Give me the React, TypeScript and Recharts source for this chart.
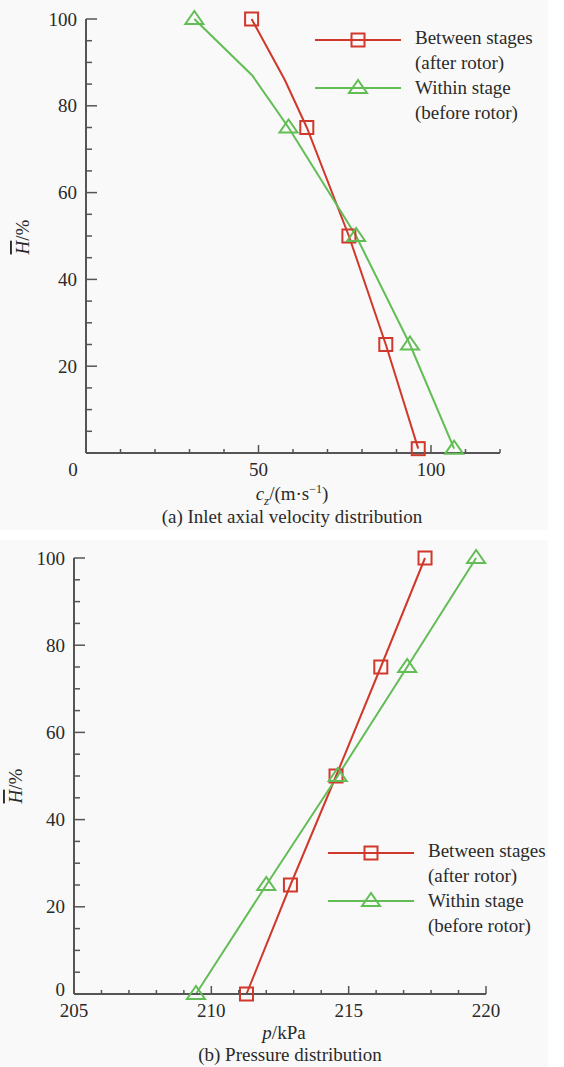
import React from "react";
import { LineChart, Line, XAxis, YAxis } from "recharts";

// (a) inlet axial velocity, c_z in m/s vs relative height in %
const A_RED_H = [100, 86, 75, 50, 25, 1];
const A_RED_C = [48, 57.6, 64, 76.2, 86.9, 96.3];
const A_RED_MARK = [true, false, true, true, true, true];
const A_GREEN_H = [100, 87, 75, 50, 25, 1];
const A_GREEN_C = [31.4, 48.2, 58.7, 78.3, 93.9, 106.7];
const A_GREEN_MARK = [true, false, true, true, true, true];
const A_X_TICKS = [0, 10, 20, 30, 40, 50, 60, 70, 80, 90, 100, 110, 120];
const A_X_LABELS = [0, 50, 100];
const A_Y_TICKS = [0, 5, 10, 15, 20, 25, 30, 35, 40, 45, 50, 55, 60, 65, 70, 75, 80, 85, 90, 95, 100];
const A_Y_LABELS = [20, 40, 60, 80, 100];

// (b) pressure in kPa vs relative height in %
const B_H = [100, 75, 50, 25, 0];
const B_RED_P = [217.78, 216.17, 214.54, 212.88, 211.28];
const B_GREEN_P = [219.64, 217.13, 214.6, 212.0, 209.44];
const B_X_TICKS = [205, 206, 207, 208, 209, 210, 211, 212, 213, 214, 215, 216, 217, 218, 219, 220];
const B_X_LABELS = [205, 210, 215, 220];
const B_Y_TICKS = A_Y_TICKS;
const B_Y_LABELS = [0, 20, 40, 60, 80, 100];

const RED = "#d0382b";
const GREEN = "#62bd55";
const AXIS = "#555";
const TEXT = "#2a2a2a";
const FONT = "'Liberation Serif', 'Times New Roman', serif";

const aRed = A_RED_H.map((h, i) => ({ c: A_RED_C[i], h, m: A_RED_MARK[i] }));
const aGreen = A_GREEN_H.map((h, i) => ({ c: A_GREEN_C[i], h, m: A_GREEN_MARK[i] }));
const bRed = B_H.map((h, i) => ({ p: B_RED_P[i], h, m: true }));
const bGreen = B_H.map((h, i) => ({ p: B_GREEN_P[i], h, m: true }));

const squareDot = (props: any) => {
  const { cx, cy, payload, index } = props;
  if (!payload.m) return <g key={`s-${index}`} />;
  return (
    <rect key={`s-${index}`} x={cx - 6.5} y={cy - 6.5} width={13} height={13}
      fill="none" stroke={RED} strokeWidth={2} />
  );
};

const triangleDot = (props: any) => {
  const { cx, cy, payload, index } = props;
  if (!payload.m) return <g key={`t-${index}`} />;
  return (
    <polygon key={`t-${index}`} points={`${cx},${cy - 8} ${cx - 9},${cy + 5} ${cx + 9},${cy + 5}`}
      fill="none" stroke={GREEN} strokeWidth={2} />
  );
};

const makeXTick = (labels: number[], zeroShift: number) => (props: any) => {
  const { x, y, payload } = props;
  const v = payload.value;
  const major = labels.includes(v);
  return (
    <g>
      <line x1={x} x2={x} y1={y} y2={y - (major ? 8 : 4)} stroke={AXIS} strokeWidth={1.5} />
      {major && (
        <text x={v === labels[0] ? x + zeroShift : x} y={y + 23} textAnchor="middle"
          fontFamily={FONT} fontSize={19} fill={TEXT}>{v}</text>
      )}
    </g>
  );
};

const makeYTick = (labels: number[]) => (props: any) => {
  const { x, y, payload } = props;
  const v = payload.value;
  const major = v % 20 === 0;
  // the bottom label sits a little higher so it clears the x labels
  const dy = v === 0 ? 2 : 6.5;
  return (
    <g>
      <line x1={x} x2={x + (major ? 11 : 6)} y1={y} y2={y} stroke={AXIS} strokeWidth={1.5} />
      {labels.includes(v) && (
        <text x={x - 9} y={y + dy} textAnchor="end" fontFamily={FONT} fontSize={19} fill={TEXT}>{v}</text>
      )}
    </g>
  );
};

const LegendBox = ({ left, top }: { left: number; top: number }) => (
  <svg width={240} height={95} style={{ position: "absolute", left, top, overflow: "visible" }}>
    <line x1={0} x2={86} y1={13} y2={13} stroke={RED} strokeWidth={2} />
    <rect x={36.5} y={6.5} width={13} height={13} fill="none" stroke={RED} strokeWidth={2} />
    <text x={100} y={17} fontFamily={FONT} fontSize={19} fill={TEXT}>Between stages</text>
    <text x={100} y={42} fontFamily={FONT} fontSize={19} fill={TEXT}>(after rotor)</text>
    <line x1={0} x2={86} y1={61} y2={61} stroke={GREEN} strokeWidth={2} />
    <polygon points="43,53 34,66 52,66" fill="none" stroke={GREEN} strokeWidth={2} />
    <text x={100} y={67} fontFamily={FONT} fontSize={19} fill={TEXT}>Within stage</text>
    <text x={100} y={92} fontFamily={FONT} fontSize={19} fill={TEXT}>(before rotor)</text>
  </svg>
);

const YLabel = ({ cx, cy }: { cx: number; cy: number }) => (
  <svg width={30} height={60} style={{ position: "absolute", left: cx - 15, top: cy - 30, overflow: "visible" }}>
    <text x={15} y={30} transform="rotate(-90 15 30)" textAnchor="middle" dominantBaseline="central"
      fontFamily={FONT} fontSize={19} fill={TEXT}>
      <tspan fontStyle="italic" textDecoration="overline">H</tspan>/%
    </text>
  </svg>
);

const Caption = ({ cx, cy, children }: { cx: number; cy: number; children: React.ReactNode }) => (
  <div style={{
    position: "absolute", left: cx - 200, top: cy - 12, width: 400, textAlign: "center",
    fontFamily: FONT, fontSize: 19, lineHeight: "24px", color: TEXT, whiteSpace: "nowrap",
  }}>{children}</div>
);

export default function App() {
  return (
    <div style={{ position: "absolute", left: 0, top: 0, width: 564, height: 1067, background: "#fff", overflow: "hidden" }}>
      <div style={{ position: "absolute", left: 0, top: 0, width: 548, height: 530, background: "#f9f9f9" }} />
      <div style={{ position: "absolute", left: 0, top: 540, width: 548, height: 527, background: "#f9f9f9" }} />

      <div style={{ position: "absolute", left: 0, top: 0 }}>
        <LineChart width={564} height={500} margin={{ top: 19, right: 64, bottom: 17, left: 26 }}>
          <XAxis type="number" dataKey="c" domain={[0, 120]} ticks={A_X_TICKS} interval={0}
            stroke={AXIS} strokeWidth={2} tickLine={false} tickSize={0} tickMargin={0} height={30}
            tick={makeXTick(A_X_LABELS, -13)} />
          <YAxis type="number" dataKey="h" domain={[0, 100]} ticks={A_Y_TICKS} interval={0}
            stroke={AXIS} strokeWidth={2} tickLine={false} tickSize={0} tickMargin={0} width={60}
            tick={makeYTick(A_Y_LABELS)} />
          <Line data={aRed} dataKey="h" type="linear" stroke={RED} strokeWidth={2}
            dot={squareDot} activeDot={false} isAnimationActive={false} />
          <Line data={aGreen} dataKey="h" type="linear" stroke={GREEN} strokeWidth={2}
            dot={triangleDot} activeDot={false} isAnimationActive={false} />
        </LineChart>
      </div>
      <LegendBox left={315} top={27} />
      <YLabel cx={22} cy={237} />
      <Caption cx={292} cy={489}>
        <i>c</i><sub style={{ fontSize: 13, fontStyle: "italic" }}>z</sub>/(m·s<sup style={{ fontSize: 12 }}>−1</sup>)
      </Caption>
      <Caption cx={292} cy={517}>(a) Inlet axial velocity distribution</Caption>

      <div style={{ position: "absolute", left: 0, top: 530 }}>
        <LineChart width={564} height={500} margin={{ top: 28, right: 78, bottom: 6, left: 14 }}>
          <XAxis type="number" dataKey="p" domain={[205, 220]} ticks={B_X_TICKS} interval={0}
            stroke={AXIS} strokeWidth={2} tickLine={false} tickSize={0} tickMargin={0} height={30}
            tick={makeXTick(B_X_LABELS, 0)} />
          <YAxis type="number" dataKey="h" domain={[0, 100]} ticks={B_Y_TICKS} interval={0}
            stroke={AXIS} strokeWidth={2} tickLine={false} tickSize={0} tickMargin={0} width={60}
            tick={makeYTick(B_Y_LABELS)} />
          <Line data={bRed} dataKey="h" type="linear" stroke={RED} strokeWidth={2}
            dot={squareDot} activeDot={false} isAnimationActive={false} />
          <Line data={bGreen} dataKey="h" type="linear" stroke={GREEN} strokeWidth={2}
            dot={triangleDot} activeDot={false} isAnimationActive={false} />
        </LineChart>
      </div>
      <LegendBox left={328} top={840} />
      <YLabel cx={15} cy={786} />
      <Caption cx={284} cy={1033}><i>p</i>/kPa</Caption>
      <Caption cx={290} cy={1055}>(b) Pressure distribution</Caption>
    </div>
  );
}
